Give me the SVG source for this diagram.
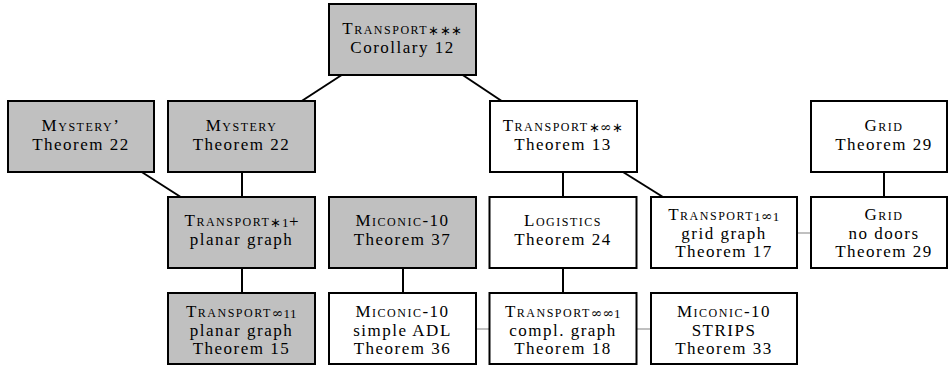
<svg xmlns="http://www.w3.org/2000/svg" width="949" height="368" viewBox="0 0 949 368">
  <style>
    .box { stroke: #000; stroke-width: 2; }
    .hard { fill: #c0c0c0; }
    .easy { fill: #fff; }
    text { font-family: "Liberation Serif", "Times New Roman", serif; font-size: 17px; letter-spacing: 1.5px; text-anchor: middle; fill: #000; }
    .sc { font-variant: small-caps; }
    .sub { font-size: 13px; letter-spacing: 0.5px; font-variant: normal; }
    .inf { font-family: "DejaVu Serif", serif; font-size: 14px; letter-spacing: 0; }
    .subbig { font-size: 17px; letter-spacing: 0; font-variant: normal; }
    .edge { stroke: #000; stroke-width: 2; fill: none; }
    .link { stroke: #c0c0c0; stroke-width: 2; fill: none; }
  </style>

  <!-- connectors -->
  <g id="connectors">
    <line class="edge" x1="341.7" y1="75" x2="301.7" y2="101"/>
    <line class="edge" x1="462.7" y1="75" x2="501.7" y2="101"/>
    <line class="edge" x1="141.7" y1="172" x2="180.7" y2="197"/>
    <line class="edge" x1="242" y1="172" x2="242" y2="197"/>
    <line class="edge" x1="242" y1="268" x2="242" y2="293"/>
    <line class="edge" x1="403" y1="268" x2="403" y2="293"/>
    <line class="edge" x1="563" y1="172" x2="563" y2="197"/>
    <line class="edge" x1="623" y1="172" x2="663" y2="197"/>
    <line class="edge" x1="563" y1="268" x2="563" y2="293"/>
    <line class="edge" x1="884" y1="172" x2="884" y2="197"/>
    <line class="link" x1="797" y1="233" x2="811" y2="233"/>
    <line class="link" x1="476" y1="329" x2="489" y2="329"/>
    <line class="link" x1="637" y1="329" x2="651" y2="329"/>
  </g>

  <!-- row 1 -->
  <g id="transport-star-star-star">
    <rect class="box hard" x="329" y="4" width="147" height="71"/>
    <text x="402.5" y="34"><tspan class="sc">Transport</tspan><tspan class="sub" dy="1">∗∗∗</tspan></text>
    <text x="402.5" y="53">Corollary 12</text>
  </g>

  <!-- row 2 -->
  <g id="mystery-prime">
    <rect class="box hard" x="8" y="101" width="146" height="71"/>
    <text x="81" y="131" class="sc">Mystery’</text>
    <text x="81" y="150">Theorem 22</text>
  </g>
  <g id="mystery">
    <rect class="box hard" x="168" y="101" width="147" height="71"/>
    <text x="241.5" y="131" class="sc">Mystery</text>
    <text x="241.5" y="150">Theorem 22</text>
  </g>
  <g id="transport-star-inf-star">
    <rect class="box easy" x="490" y="101" width="147" height="71"/>
    <text x="563" y="131"><tspan class="sc">Transport</tspan><tspan class="sub" dy="1">∗<tspan class="inf">∞</tspan>∗</tspan></text>
    <text x="563" y="150">Theorem 13</text>
  </g>
  <g id="grid">
    <rect class="box easy" x="811" y="101" width="136" height="71"/>
    <text x="884" y="131" class="sc">Grid</text>
    <text x="884" y="150">Theorem 29</text>
  </g>

  <!-- row 3 -->
  <g id="transport-star-1-plus">
    <rect class="box hard" x="168" y="197" width="147" height="71"/>
    <text x="241.5" y="226"><tspan class="sc">Transport</tspan><tspan class="sub" dy="1">∗1</tspan><tspan class="subbig">+</tspan></text>
    <text x="241.5" y="245">planar graph</text>
  </g>
  <g id="miconic-37">
    <rect class="box hard" x="329" y="197" width="147" height="71"/>
    <text x="402.5" y="226" class="sc">Miconic-10</text>
    <text x="402.5" y="245">Theorem 37</text>
  </g>
  <g id="logistics">
    <rect class="box easy" x="489.5" y="197" width="147" height="71"/>
    <text x="563" y="226" class="sc">Logistics</text>
    <text x="563" y="245">Theorem 24</text>
  </g>
  <g id="transport-1-inf-1">
    <rect class="box easy" x="651" y="197" width="146" height="71"/>
    <text x="724" y="220"><tspan class="sc">Transport</tspan><tspan class="sub" dy="1">1<tspan class="inf">∞</tspan>1</tspan></text>
    <text x="724" y="238.5">grid graph</text>
    <text x="724" y="257">Theorem 17</text>
  </g>
  <g id="grid-no-doors">
    <rect class="box easy" x="811" y="197" width="136" height="71"/>
    <text x="884" y="220" class="sc">Grid</text>
    <text x="884" y="238.5">no doors</text>
    <text x="884" y="257">Theorem 29</text>
  </g>

  <!-- row 4 -->
  <g id="transport-inf-1-1">
    <rect class="box hard" x="168" y="293" width="147" height="71"/>
    <text x="241.5" y="317"><tspan class="sc">Transport</tspan><tspan class="sub" dy="1"><tspan class="inf">∞</tspan>11</tspan></text>
    <text x="241.5" y="335.5">planar graph</text>
    <text x="241.5" y="354">Theorem 15</text>
  </g>
  <g id="miconic-adl">
    <rect class="box easy" x="329" y="293" width="147" height="71"/>
    <text x="402.5" y="317" class="sc">Miconic-10</text>
    <text x="402.5" y="335.5">simple ADL</text>
    <text x="402.5" y="354">Theorem 36</text>
  </g>
  <g id="transport-inf-inf-1">
    <rect class="box easy" x="489.5" y="293" width="147" height="71"/>
    <text x="563" y="317"><tspan class="sc">Transport</tspan><tspan class="sub" dy="1"><tspan class="inf">∞∞</tspan>1</tspan></text>
    <text x="563" y="335.5">compl. graph</text>
    <text x="563" y="354">Theorem 18</text>
  </g>
  <g id="miconic-strips">
    <rect class="box easy" x="651" y="293" width="146" height="71"/>
    <text x="724" y="317" class="sc">Miconic-10</text>
    <text x="724" y="335.5">STRIPS</text>
    <text x="724" y="354">Theorem 33</text>
  </g>
</svg>
